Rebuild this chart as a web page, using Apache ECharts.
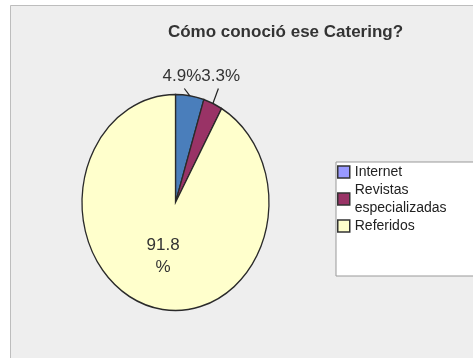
<!DOCTYPE html>
<html><head><meta charset="utf-8">
<script src="https://cdn.jsdelivr.net/npm/echarts@6/dist/echarts.min.js"></script>
<style>html,body{margin:0;padding:0;background:#fff}#c{width:473px;height:358px}</style>
</head><body><div id="c"></div>
<script>
// ---- data ----
const titleText = 'Cómo conoció ese Catering?';
const categories = ['Internet', 'Revistas especializadas', 'Referidos'];
const values = [4.9, 3.3, 91.8];
const sliceColors = ['#4a7ebb', '#993366', '#ffffcc'];
const legendColors = ['#9999ff', '#993366', '#ffffcc'];

// ---- style / layout ----
const FONT = '"Liberation Sans", Arial, sans-serif';
const PIE = { cx: 175.5, cy: 202.5, rx: 93.5, ry: 108 };
const LABEL_SIZE = 17;

const total = values.reduce((a, b) => a + b, 0);
const starts = [];
{ let acc = 0; values.forEach(v => { starts.push(acc); acc += v; }); }

const mctx = document.createElement('canvas').getContext('2d');
function measure(t, size, weight) {
  mctx.font = (weight || 'normal') + ' ' + size + 'px ' + FONT;
  return mctx.measureText(t).width;
}
function pt(theta, k) {
  return [PIE.cx + PIE.rx * k * Math.sin(theta), PIE.cy - PIE.ry * k * Math.cos(theta)];
}

// label layout computed from slice geometry
const labels = values.map((v, i) => {
  const mid = (starts[i] + v / 2) / total * 2 * Math.PI;
  const text = v.toFixed(1) + '%';
  const outside = v / total < 0.1;
  const edge = pt(mid, 1);
  return { i, text, outside, mid, edge, x: edge[0], w: measure(text, LABEL_SIZE) };
});
// resolve horizontal overlap of outside labels
(function () {
  const outs = labels.filter(l => l.outside).sort((a, b) => a.edge[0] - b.edge[0]);
  let groups = outs.map(l => ({ items: [l] }));
  function place(g) {
    const W = g.items.reduce((s, l) => s + l.w, 0);
    const m = g.items.reduce((s, l) => s + l.edge[0], 0) / g.items.length;
    let left = m - W / 2;
    g.left = left; g.right = left + W;
    g.items.forEach(l => { l.x = left + l.w / 2; left += l.w; });
  }
  let changed = true;
  while (changed) {
    changed = false;
    groups.forEach(place);
    for (let k = 0; k < groups.length - 1; k++) {
      if (groups[k].right > groups[k + 1].left) {
        groups[k].items = groups[k].items.concat(groups[k + 1].items);
        groups.splice(k + 1, 1);
        changed = true; break;
      }
    }
  }
})();
const outerLabelY = PIE.cy - PIE.ry - 18;

function renderSlice(params, api) {
  const i = params.seriesIndex;
  const v = api.value(0), s0 = api.value(1);
  const a0 = s0 / total * 2 * Math.PI - Math.PI / 2;
  const a1 = (s0 + v) / total * 2 * Math.PI - Math.PI / 2;
  const children = [{
    type: 'sector', x: PIE.cx, y: PIE.cy, scaleX: PIE.rx / PIE.ry, scaleY: 1,
    shape: { cx: 0, cy: 0, r: PIE.ry, startAngle: a0, endAngle: a1, clockwise: true },
    style: { fill: sliceColors[i], stroke: '#2a2a2a', lineWidth: 1.5, strokeNoScale: true }
  }];
  const l = labels[i];
  if (l.outside) {
    const ex = l.edge[0], ey = l.edge[1];
    const lx = l.x + (ex - l.x) * 0.3, ly = outerLabelY + 12;
    children.push({ type: 'line', shape: { x1: ex, y1: ey, x2: lx, y2: ly }, style: { stroke: '#222', lineWidth: 1.2 } });
    children.push({ type: 'text', x: l.x, y: outerLabelY,
      style: { text: l.text, fontSize: LABEL_SIZE, fontFamily: FONT, fill: '#333', align: 'center', verticalAlign: 'middle' } });
  } else {
    const p = pt(l.mid, 0.52);
    children.push({ type: 'text', x: p[0], y: p[1],
      style: { text: l.text, fontSize: LABEL_SIZE, fontFamily: FONT, fill: '#333', align: 'center', verticalAlign: 'middle',
        width: 40, overflow: 'breakAll', lineHeight: 22 } });
  }
  return { type: 'group', children };
}

const titleW = measure(titleText, 17, 'bold');
const chart = echarts.init(document.getElementById('c'), null, { renderer: 'canvas' });
chart.setOption({
  animation: false,
  backgroundColor: '#ffffff',
  graphic: [{ type: 'rect', z: -10, silent: true,
    shape: { x: 10.5, y: 5.5, width: 520, height: 420 },
    style: { fill: '#eeeeee', stroke: '#bdbdbd', lineWidth: 1 } }],
  title: { text: titleText, left: 285.5 - titleW / 2, top: 24, padding: 0,
    textStyle: { fontSize: 17, fontWeight: 'bold', color: '#333', fontFamily: FONT } },
  legend: {
    orient: 'vertical', left: 336, top: 162, padding: [1, 40, 41, 1],
    backgroundColor: '#ffffff', borderColor: '#999', borderWidth: 1, borderRadius: 0,
    itemGap: 0, itemWidth: 12, itemHeight: 12, icon: 'rect',
    itemStyle: { borderColor: '#333', borderWidth: 1.5 },
    textStyle: { fontSize: 14, lineHeight: 18, color: '#222', fontFamily: FONT, width: 100, overflow: 'break' },
    data: categories
  },
  series: categories.map((name, i) => ({
    type: 'custom', name, coordinateSystem: 'none',
    itemStyle: { color: legendColors[i] },
    data: [[values[i], starts[i]]],
    renderItem: renderSlice
  }))
});
</script></body></html>
